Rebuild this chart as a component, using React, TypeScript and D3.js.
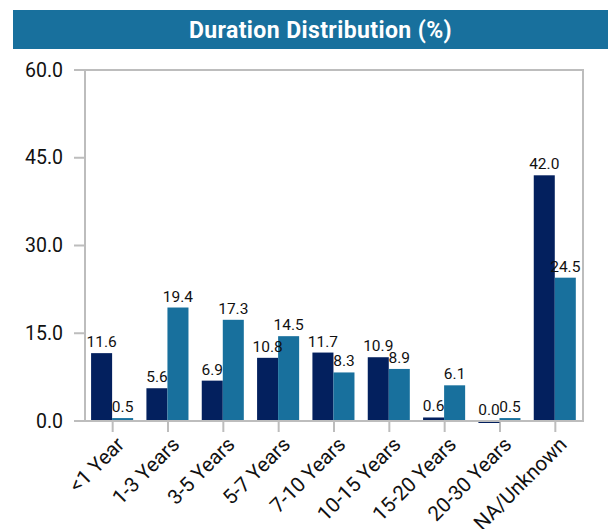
import React from "react";
import * as d3 from "d3";

const categories = ["<1 Year", "1-3 Years", "3-5 Years", "5-7 Years", "7-10 Years", "10-15 Years", "15-20 Years", "20-30 Years", "NA/Unknown"];
const seriesA = [11.6, 5.6, 6.9, 10.8, 11.7, 10.9, 0.6, -0.04, 42.0];
const seriesB = [0.5, 19.4, 17.3, 14.5, 8.3, 8.9, 6.1, 0.5, 24.5];
const yTicks = [0, 15, 30, 45, 60];
const title = "Duration Distribution (%)";

const W = 608, H = 529;
const L = 85, R = 583, T = 70, B = 421;
const colA = "#03205E";
const colB = "#18709D";
const gridCol = "#bdbdbd";
const font = "Roboto, 'Noto Sans', sans-serif";

export default function App() {
  const x0 = d3.scaleBand<string>().domain(categories).range([L, R]).padding(0);
  const bw = x0.bandwidth();
  const x1 = d3.scaleBand<string>().domain(["a", "b"]).range([bw * 0.11, bw * 0.87]).padding(0);
  const y = d3.scaleLinear().domain([0, 60]).range([B, T]);
  const fmt = (v: number) => {
    const s = d3.format(".1f")(v);
    return s === "−0.0" || s === "-0.0" ? "0.0" : s;
  };
  const bar = (v: number) => {
    let top = Math.min(y(v), y(0));
    let h = Math.abs(y(v) - y(0));
    if (v !== 0 && h < 2) { h = 2; if (v < 0) top = y(0); else top = y(0) - 2; }
    return { top, h };
  };
  const series = [
    { key: "a", vals: seriesA, col: colA },
    { key: "b", vals: seriesB, col: colB },
  ];
  return (
    <svg width={W} height={H} style={{ position: "absolute", left: 0, top: 0, background: "#fff" }}>
      <rect x={13} y={10} width={W - 13} height={39} fill={colB} />
      <text x={320.5} y={30.5} textAnchor="middle" dominantBaseline="central" fill="#fff" fontFamily={font} fontWeight={700} fontSize={23} letterSpacing={0.4}>{title}</text>
      {yTicks.map((t) => (
        <g key={t}>
          <line x1={74} x2={L} y1={y(t)} y2={y(t)} stroke={gridCol} strokeWidth={2} />
          <text x={63} y={y(t)} textAnchor="end" dominantBaseline="central" fontFamily={font} fontSize={19.5} fill="#111">{d3.format(".1f")(t)}</text>
        </g>
      ))}
      {categories.map((c, i) => {
        const cx = (x0(c) as number) + bw / 2;
        return (
          <g key={c}>
            <line x1={cx} x2={cx} y1={B} y2={B + 11} stroke={gridCol} strokeWidth={2} />
            <text transform={`translate(${cx + 2},${B + 14}) rotate(-45)`} textAnchor="end" dominantBaseline="hanging" fontFamily={font} fontSize={20.5} fill="#111">{c}</text>
          </g>
        );
      })}
      {series.map((s) =>
        s.vals.map((v, i) => {
          const bx = (x0(categories[i]) as number) + (x1(s.key) as number);
          const { top, h } = bar(v);
          return <rect key={s.key + i} x={bx} y={top} width={x1.bandwidth()} height={h} fill={s.col} />;
        })
      )}
      <rect x={L} y={T} width={R - L} height={B - T} fill="none" stroke={gridCol} strokeWidth={2} />
      {series.map((s) =>
        s.vals.map((v, i) => {
          const bx = (x0(categories[i]) as number) + (x1(s.key) as number) + x1.bandwidth() / 2;
          const ly = Math.min(y(Math.max(v, 0)), y(0)) - 6;
          return (
            <text key={"l" + s.key + i} x={bx} y={ly} textAnchor="middle" fontFamily={font} fontSize={15.5} fill="#111">{fmt(v)}</text>
          );
        })
      )}
    </svg>
  );
}
